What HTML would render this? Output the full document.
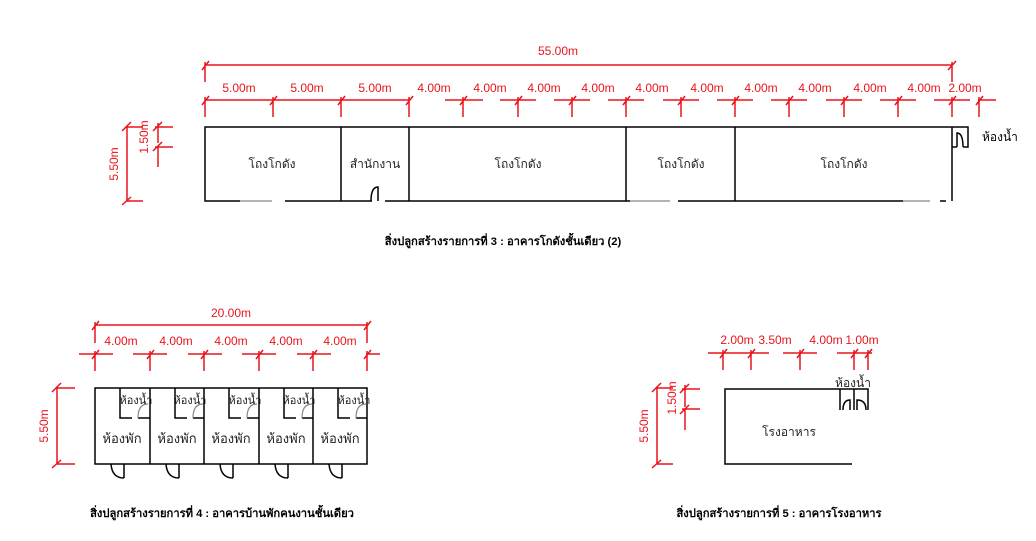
<!DOCTYPE html>
<html><head><meta charset="utf-8"><style>
html,body{margin:0;padding:0;background:#fff;}
svg{display:block}
.r{stroke:#e8141c;stroke-width:1.5;fill:none}
.w{stroke:#000;stroke-width:1.5;fill:none}
.g{stroke:#888;stroke-width:1.2;fill:none}
text{font-family:"Liberation Sans","Noto Sans CJK SC",sans-serif}
.d{fill:#e8141c;font-size:12px;text-anchor:middle}
.t{fill:#222;font-size:12px;text-anchor:middle}
.c{fill:#000;font-size:11.2px;font-weight:bold;text-anchor:middle}
</style></head><body>
<svg width="1036" height="541" viewBox="0 0 1036 541" xmlns="http://www.w3.org/2000/svg">
<!-- Building 3 -->
<path class="r" d="M205 65 H952 M202 70 L209 61 M205 62 V82 M948 70 L956 61 M952 62 V82"/>
<text class="d" x="558" y="55">55.00m</text>
<path class="r" d="M205 100 H409
M202 105 L209 96 M205 97 V117
M270 105 L277 96 M273 97 V117
M338 105 L345 96 M341 97 V117
M406 105 L413 96 M409 97 V117
M445 100 H483 M460 105 L467 96 M463 97 V117
M500 100 H536 M515 105 L522 96 M518 97 V117
M554 100 H590 M569 105 L576 96 M572 97 V117
M608 100 H644 M623 105 L630 96 M626 97 V117
M663 100 H699 M678 105 L685 96 M681 97 V117
M717 100 H753 M732 105 L739 96 M735 97 V117
M771 100 H807 M786 105 L793 96 M789 97 V117
M826 100 H862 M841 105 L848 96 M844 97 V117
M880 100 H916 M895 105 L902 96 M898 97 V117
M934 100 H970 M949 105 L956 96 M952 97 V117
M978 100 H996 M976 105 L983 96 M979 97 V117"/>
<text class="d" x="239" y="92">5.00m</text><text class="d" x="307" y="92">5.00m</text><text class="d" x="375" y="92">5.00m</text>
<text class="d" x="434" y="92">4.00m</text><text class="d" x="490" y="92">4.00m</text><text class="d" x="544" y="92">4.00m</text><text class="d" x="598" y="92">4.00m</text><text class="d" x="652" y="92">4.00m</text><text class="d" x="707" y="92">4.00m</text><text class="d" x="761" y="92">4.00m</text><text class="d" x="815" y="92">4.00m</text><text class="d" x="870" y="92">4.00m</text><text class="d" x="924" y="92">4.00m</text><text class="d" x="965" y="92">2.00m</text>
<path class="r" d="M127 127 V201 M122 131 L131 122 M127 127 H143 M122 205 L131 197 M127 201 H143
M158 123 V143 M153 131 L162 122 M155 127 H173 M153 151 L162 142 M158 147 V167 M155 147 H173"/>
<text class="d" transform="translate(118 164) rotate(-90)">5.50m</text>
<text class="d" transform="translate(148 137) rotate(-90)">1.50m</text>
<path class="w" d="M952 127 H205 V201 H240 M285 201 H371 M385 201 H630 M678 201 H903 M940 201 H946 M952 201 V127 M341 127 V201 M409 127 V201 M626 127 V201 M735 127 V201"/>
<path class="g" d="M240 201 H272 M630 201 H670 M903 201 H930"/>
<path class="w" d="M952 127 H968 V147 H963 M952 147 H957 M957 147 V133 Q963 133 963 147 M371 201 Q371 187 378 187 V201 M372 201 H371"/>
<text class="t" x="272" y="168">โถงโกดัง</text>
<text class="t" x="375" y="168">สำนักงาน</text>
<text class="t" x="518" y="168">โถงโกดัง</text>
<text class="t" x="681" y="168">โถงโกดัง</text>
<text class="t" x="844" y="168">โถงโกดัง</text>
<text x="982" y="141" style="font-size:12px;fill:#000">ห้องน้ำ</text>
<text class="c" x="503" y="245">สิ่งปลูกสร้างรายการที่ 3 : อาคารโกดังชั้นเดียว (2)</text>

<!-- Building 4 -->
<path class="r" d="M95 325 H367 M92 330 L99 321 M95 322 V343 M364 330 L371 321 M367 322 V343"/>
<text class="d" x="231" y="317">20.00m</text>
<path class="r" d="M79 354 H113 M92 359 L99 350 M95 351 V371
M133 354 H167 M147 359 L154 350 M150 351 V371
M188 354 H222 M201 359 L208 350 M204 351 V371
M242 354 H276 M256 359 L263 350 M259 351 V371
M297 354 H331 M310 359 L317 350 M313 351 V371
M366 354 H380 M364 359 L371 350 M367 351 V371"/>
<text class="d" x="121" y="345">4.00m</text><text class="d" x="176" y="345">4.00m</text><text class="d" x="231" y="345">4.00m</text><text class="d" x="286" y="345">4.00m</text><text class="d" x="340" y="345">4.00m</text>
<path class="r" d="M57 388 V464 M52 392 L61 383 M57 388 H75 M52 468 L61 460 M57 464 H75"/>
<text class="d" transform="translate(48 426) rotate(-90)">5.50m</text>
<path class="w" d="M95 388 H367 V464 H95 Z M150 388 V464 M204 388 V464 M259 388 V464 M313 388 V464"/>
<g class="w">
<path d="M120 388 V418 H132 M138 418 H150 M124 464 V478 M124 478 Q112 478 111 464"/>
<path d="M175 388 V418 H187 M193 418 H204 M179 464 V478 M179 478 Q167 478 166 464"/>
<path d="M229 388 V418 H241 M247 418 H259 M233 464 V478 M233 478 Q221 478 220 464"/>
<path d="M284 388 V418 H296 M302 418 H313 M288 464 V478 M288 478 Q276 478 275 464"/>
<path d="M338 388 V418 H350 M356 418 H367 M342 464 V478 M342 478 Q330 478 329 464"/>
</g>
<g class="g"><path d="M138 418 Q138 404 148 404 M193 418 Q193 404 203 404 M247 418 Q247 404 257 404 M302 418 Q302 404 312 404 M356 418 Q356 404 366 404"/></g>
<text class="t" x="136" y="404" style="font-size:11px">ห้องน้ำ</text>
<text class="t" x="190" y="404" style="font-size:11px">ห้องน้ำ</text>
<text class="t" x="245" y="404" style="font-size:11px">ห้องน้ำ</text>
<text class="t" x="299" y="404" style="font-size:11px">ห้องน้ำ</text>
<text class="t" x="354" y="404" style="font-size:11px">ห้องน้ำ</text>
<text class="t" x="122" y="443" style="font-size:13px">ห้องพัก</text>
<text class="t" x="177" y="443" style="font-size:13px">ห้องพัก</text>
<text class="t" x="231" y="443" style="font-size:13px">ห้องพัก</text>
<text class="t" x="286" y="443" style="font-size:13px">ห้องพัก</text>
<text class="t" x="340" y="443" style="font-size:13px">ห้องพัก</text>
<text class="c" x="222" y="517">สิ่งปลูกสร้างรายการที่ 4 : อาคารบ้านพักคนงานชั้นเดียว</text>

<!-- Building 5 -->
<path class="r" d="M708 353 H740 M720 358 L727 349 M723 350 V370
M735 353 H769 M748 358 L755 349 M751 350 V370
M783 353 H817 M797 358 L804 349 M800 350 V370
M837 353 H872 M851 358 L858 349 M854 350 V370 M865 358 L872 349 M868 350 V370"/>
<text class="d" x="737" y="344">2.00m</text><text class="d" x="775" y="344">3.50m</text><text class="d" x="826" y="344">4.00m</text><text class="d" x="862" y="344">1.00m</text>
<path class="r" d="M657 388 V464 M652 392 L661 383 M657 388 H673 M652 468 L661 460 M657 464 H673
M685 385 V407 M680 393 L689 384 M682 389 H700 M680 414 L689 405 M685 409 V430 M682 409 H700"/>
<text class="d" transform="translate(648 426) rotate(-90)">5.50m</text>
<text class="d" transform="translate(676 398) rotate(-90)">1.50m</text>
<path class="w" d="M840 389 H725 V464 H852"/>
<path class="w" d="M840 389 H868 V410 M840 389 V410 M854 389 V410 M843 410 Q843 400 850 400 V410 M857 410 V400 Q866 400 866 410"/>
<text x="853" y="387" class="t" style="font-size:12px">ห้องน้ำ</text>
<text class="t" x="789" y="436">โรงอาหาร</text>
<text class="c" x="779" y="517">สิ่งปลูกสร้างรายการที่ 5 : อาคารโรงอาหาร</text>
</svg>
</body></html>
